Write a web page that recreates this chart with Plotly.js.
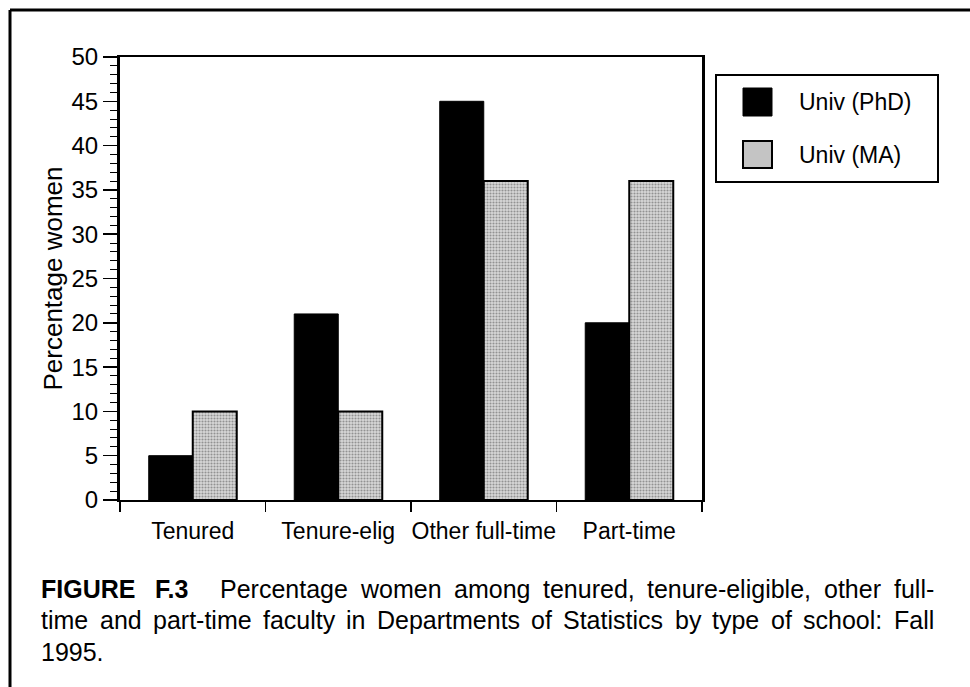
<!DOCTYPE html>
<html>
<head>
<meta charset="utf-8">
<script src="https://cdn.plot.ly/plotly-3.0.1.min.js"></script>
<style>html,body{margin:0;padding:0;background:#fff;}#chart{width:970px;height:687px;}</style>
</head>
<body>
<div id="chart"></div>
<script>
// ---- data ----
var categories = ["Tenured", "Tenure-elig", "Other full-time", "Part-time"];
var seriesNames = ["Univ (PhD)", "Univ (MA)"];
var phdValues = [5, 21, 45, 20];
var maValues = [10, 10, 36, 36];
var yTickVals = [0, 5, 10, 15, 20, 25, 30, 35, 40, 45, 50];
var yTitle = "Percentage women";
// caption words: [text, bold, gap units before]
var captionLine1 = [["FIGURE", true, 0], ["F.3", true, 1.5], ["Percentage", false, 2.5], ["women", false, 1],
  ["among", false, 1], ["tenured,", false, 1], ["tenure-eligible,", false, 1], ["other", false, 1], ["full-", false, 1]];
var captionLine2 = [["time", false, 0], ["and", false, 1], ["part-time", false, 1], ["faculty", false, 1], ["in", false, 1],
  ["Departments", false, 1], ["of", false, 1], ["Statistics", false, 1], ["by", false, 1], ["type", false, 1],
  ["of", false, 1], ["school:", false, 1], ["Fall", false, 1]];
var captionLine3 = "1995.";

// ---- layout geometry (pixels) ----
var W = 970, H = 687;
var L = 120, R = 702, T = 57, B = 500;
function px(x) { return (x - L) / (R - L); }
function py(y) { return (B - y) / (B - T); }

var FONT = "Liberation Sans, Arial, Helvetica, sans-serif";
var GRAY = "#c4c4c4";
var CAP_SIZE = 25;

var traces = [
  {
    type: "bar", name: seriesNames[0], x: categories, y: phdValues,
    marker: {color: "#000000", line: {color: "#000000", width: 1}},
    showlegend: false
  },
  {
    type: "bar", name: seriesNames[1], x: categories, y: maValues,
    marker: {color: GRAY, line: {color: "#000000", width: 2},
             pattern: {shape: ".", bgcolor: "#d8d8d8", fgcolor: "#929292", size: 3, solidity: 0.4}},
    showlegend: false
  }
];

var shapes = [
  // outer frame: top and left edges
  {type: "line", xref: "paper", yref: "paper", x0: px(10), x1: px(975), y0: py(10), y1: py(10),
   line: {color: "#000", width: 3}},
  {type: "line", xref: "paper", yref: "paper", x0: px(10), x1: px(10), y0: py(10), y1: py(690),
   line: {color: "#000", width: 3}},
  // legend box
  {type: "rect", xref: "paper", yref: "paper", x0: px(716), x1: px(938), y0: py(182), y1: py(75),
   line: {color: "#000", width: 2}, fillcolor: "rgba(0,0,0,0)"},
  {type: "rect", xref: "paper", yref: "paper", x0: px(743), x1: px(772), y0: py(116), y1: py(88),
   line: {color: "#000", width: 1}, fillcolor: "#000"},
  {type: "rect", xref: "paper", yref: "paper", x0: px(743), x1: px(772), y0: py(168), y1: py(141),
   line: {color: "#000", width: 2}, fillcolor: GRAY}
];

var annotations = [
  {xref: "paper", yref: "paper", x: px(797), y: py(102), xanchor: "left", yanchor: "middle",
   text: seriesNames[0], showarrow: false, font: {family: FONT, size: 23, color: "#000"}},
  {xref: "paper", yref: "paper", x: px(797), y: py(155), xanchor: "left", yanchor: "middle",
   text: seriesNames[1], showarrow: false, font: {family: FONT, size: 23, color: "#000"}}
];

// justified caption lines
var canvas = document.createElement("canvas");
var ctx = canvas.getContext("2d");
function measure(word, bold) {
  ctx.font = (bold ? "bold " : "") + CAP_SIZE + "px 'Liberation Sans', Arial, sans-serif";
  return ctx.measureText(word).width;
}
function justify(words, left, right, yc) {
  var widths = words.map(function (w) { return measure(w[0], w[1]); });
  var total = widths.reduce(function (a, b) { return a + b; }, 0);
  var units = words.reduce(function (a, w) { return a + w[2]; }, 0);
  var gap = (right - left - total) / units;
  var x = left;
  for (var k = 0; k < words.length; k++) {
    x += words[k][2] * gap;
    annotations.push({xref: "paper", yref: "paper", x: px(x), y: py(yc), xanchor: "left", yanchor: "middle",
      text: words[k][1] ? "<b>" + words[k][0] + "</b>" : words[k][0], showarrow: false,
      font: {family: FONT, size: CAP_SIZE, color: "#000"}});
    x += widths[k];
  }
}
var capLeft = 39, capRight = 932;
justify(captionLine1, capLeft, capRight, 589);
justify(captionLine2, capLeft, capRight, 620);
annotations.push({xref: "paper", yref: "paper", x: px(capLeft), y: py(652), xanchor: "left", yanchor: "middle",
  text: captionLine3, showarrow: false, font: {family: FONT, size: CAP_SIZE, color: "#000"}});

var layout = {
  width: W, height: H,
  margin: {l: L, r: W - R, t: T, b: H - B, pad: 0},
  paper_bgcolor: "#fff", plot_bgcolor: "#fff",
  font: {family: FONT, color: "#000"},
  barmode: "group", bargap: 0.395, bargroupgap: 0,
  showlegend: false,
  xaxis: {
    type: "category", showgrid: false, zeroline: false,
    showline: true, linecolor: "#000", linewidth: 2, mirror: true,
    ticks: "outside", tickson: "boundaries", ticklen: 10, tickwidth: 1.5, tickcolor: "#000",
    tickangle: 0, automargin: false, ticklabelstandoff: 9,
    tickfont: {family: FONT, size: 23, color: "#000"}
  },
  yaxis: {
    range: [0, 50], showgrid: false, zeroline: false,
    showline: true, linecolor: "#000", linewidth: 3, mirror: true,
    tickmode: "array", tickvals: yTickVals, ticktext: yTickVals.map(String),
    ticks: "outside", ticklen: 14, tickwidth: 1.5, tickcolor: "#000",
    tickfont: {family: FONT, size: 24, color: "#000"},
    minor: {dtick: 1, ticks: "outside", ticklen: 7, tickwidth: 1, tickcolor: "#000", showgrid: false},
    automargin: false,
    title: {text: yTitle, font: {family: FONT, size: 26, color: "#000"}, standoff: 2}
  },
  shapes: shapes,
  annotations: annotations
};

Plotly.newPlot("chart", traces, layout, {displayModeBar: false, staticPlot: true});
</script>
</body>
</html>
